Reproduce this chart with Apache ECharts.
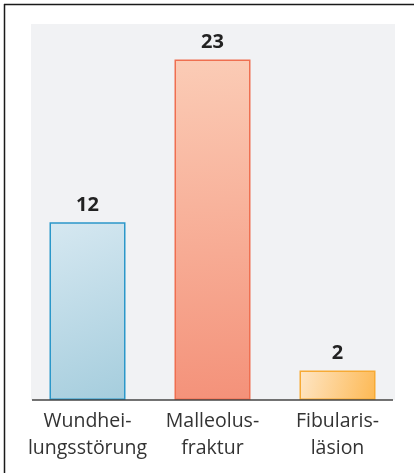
<!DOCTYPE html>
<html>
<head>
<meta charset="utf-8">
<script src="https://cdn.jsdelivr.net/npm/echarts@6/dist/echarts.min.js"></script>
<style>
  html, body { margin: 0; padding: 0; background: #fff; }
  #chart { width: 415px; height: 473px; }
</style>
</head>
<body>
<div id="chart"></div>
<script>
var categories = ['Wundhei-\nlungsstörung', 'Malleolus-\nfraktur', 'Fibularis-\nläsion'];
var values = [12, 23, 2];

// fill gradients and border per bar
var fills = [
    { x: 0, y: 0, x2: 1, y2: 1, from: '#d6e8f1', to: '#a5cddd', border: '#2b97c9' },
    { x: 0, y: 0, x2: 0.3, y2: 1, from: '#fbccb6', to: '#f4927a', border: '#ef6f50' },
    { x: 0, y: 0, x2: 1, y2: 0.6, from: '#fee6c6', to: '#fdba57', border: '#f7aa34' }
];

var myChart = echarts.init(document.getElementById('chart'));

var dataList = values.map(function (v, i) {
    var f = fills[i];
    return {
        value: v,
        itemStyle: {
            color: {
                type: 'linear',
                x: f.x, y: f.y, x2: f.x2, y2: f.y2,
                colorStops: [
                    { offset: 0, color: f.from },
                    { offset: 1, color: f.to }
                ]
            },
            borderColor: f.border,
            borderWidth: 1.5
        }
    };
});

var option = {
    animation: false,
    graphic: [
        // gray plot background
        { type: 'rect', z: -10, shape: { x: 31, y: 24, width: 364, height: 376 }, style: { fill: '#f1f2f4' } },
        // frame lines (top and left only)
        { type: 'line', shape: { x1: 4, y1: 4.5, x2: 414, y2: 4.5 }, style: { stroke: '#1a1a1a', lineWidth: 1.5 } },
        { type: 'line', shape: { x1: 4.5, y1: 4, x2: 4.5, y2: 473 }, style: { stroke: '#1a1a1a', lineWidth: 1.5 } },
        // baseline
        { type: 'line', z: 10, shape: { x1: 32, y1: 400, x2: 393, y2: 400 }, style: { stroke: '#444', lineWidth: 1.5 } }
    ],
    grid: { left: 25, width: 375, top: 24, bottom: 73 },
    xAxis: {
        type: 'category',
        data: categories,
        axisLine: { show: false },
        axisTick: { show: false },
        axisLabel: {
            interval: 0,
            margin: 8,
            color: '#333',
            fontFamily: 'Open Sans',
            fontSize: 19.5,
            lineHeight: 27
        }
    },
    yAxis: {
        type: 'value',
        min: 0,
        max: 25.4,
        show: false
    },
    series: [{
        type: 'bar',
        barWidth: 76,
        data: dataList,
        label: {
            show: true,
            position: 'top',
            distance: 7,
            color: '#222',
            fontFamily: 'Open Sans',
            fontWeight: 'bold',
            fontSize: 20
        }
    }]
};

myChart.setOption(option);
</script>
</body>
</html>
